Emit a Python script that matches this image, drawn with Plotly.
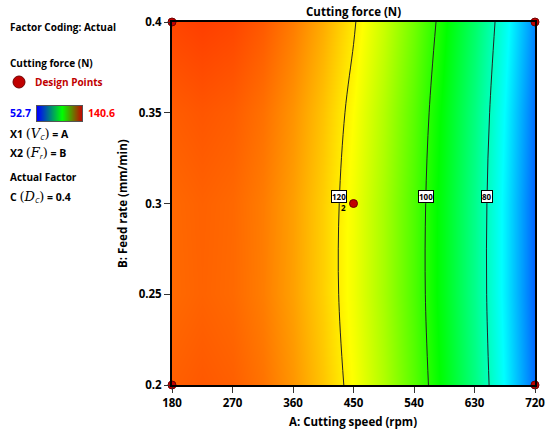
import numpy as np
import plotly.graph_objects as go

# ---------------- data ----------------
speed = [180, 225, 270, 315, 360, 405, 450, 495, 540, 585, 630, 675, 720]
feed = [0.2, 0.25, 0.3, 0.35, 0.4]
force_f020 = [132.4, 133.0, 132.4, 130.7, 127.7, 123.6, 118.3, 111.8, 104.2, 95.4, 85.4, 74.2, 61.9]
force_f025 = [131.5, 132.1, 131.5, 129.8, 126.8, 122.7, 117.4, 110.9, 103.3, 94.5, 84.5, 73.3, 61.0]
force_f030 = [131.6, 132.2, 131.6, 129.9, 126.9, 122.8, 117.5, 111.0, 103.4, 94.6, 84.6, 73.4, 61.1]
force_f035 = [132.6, 133.2, 132.6, 130.9, 127.9, 123.8, 118.5, 112.0, 104.4, 95.6, 85.6, 74.4, 62.1]
force_f040 = [134.6, 135.2, 134.6, 132.9, 129.9, 125.8, 120.5, 114.0, 106.4, 97.6, 87.6, 76.4, 64.1]
force_grid = [force_f020, force_f025, force_f030, force_f035, force_f040]

contour_levels = [80, 100, 120]
force_min, force_max = 52.7, 140.6

design_speed = [180, 180, 720, 720, 450]
design_feed = [0.2, 0.4, 0.2, 0.4, 0.3]
center_replicates = "2"

x_ticks = [180, 270, 360, 450, 540, 630, 720]
y_ticks = [0.2, 0.25, 0.3, 0.35, 0.4]
y_ticklabels = ["0.2", "0.25", "0.3", "0.35", "0.4"]

# ---------------- styling ----------------
W, H = 548, 434
FONT = "Open Sans"
def px(x): return x / W
def py(y): return 1 - y / H

cscale = [[0, "rgb(0,0,255)"], [0.25, "rgb(0,255,255)"], [0.5, "rgb(0,255,0)"],
          [0.75, "rgb(255,255,0)"], [1, "rgb(255,0,0)"]]

fig = go.Figure()
fig.add_trace(go.Heatmap(
    x=speed, y=feed, z=force_grid, colorscale=cscale, zmin=force_min, zmax=force_max,
    zsmooth="best", showscale=False, hoverinfo="skip"))
fig.add_trace(go.Contour(
    x=speed, y=feed, z=force_grid, autocontour=False,
    contours=dict(start=min(contour_levels), end=max(contour_levels), size=20, coloring="none"),
    line=dict(color="#222222", width=1), showscale=False, hoverinfo="skip"))
fig.add_trace(go.Scatter(
    x=design_speed, y=design_feed, mode="markers", cliponaxis=False,
    marker=dict(color="#c00000", size=8, line=dict(color="#700000", width=1)), hoverinfo="skip"))

# mini colour bar in the left panel
fig.add_trace(go.Heatmap(x=[0, 1], y=[0], z=[[force_min, force_max]], zsmooth="best",
                         colorscale=[[0, "rgb(0,0,255)"], [0.55, "rgb(0,255,0)"], [1, "rgb(200,0,0)"]],
                         showscale=False, xaxis="x2", yaxis="y2", hoverinfo="skip"))

annotations = []
row_mid = force_grid[feed.index(0.3)]
for lvl in contour_levels:
    xs = float(np.interp(lvl, row_mid[::-1], speed[::-1]))
    annotations.append(dict(x=xs, y=0.304, xref="x", yref="y", text=f"<b>{lvl}</b>", showarrow=False,
                            font=dict(family=FONT, size=8, color="black"), bgcolor="white",
                            bordercolor="black", borderwidth=1, borderpad=0))
annotations.append(dict(x=design_speed[-1], y=design_feed[-1], xref="x", yref="y", text=f"<b>{center_replicates}</b>",
                        showarrow=False, xshift=-10, yshift=-4, font=dict(family=FONT, size=8, color="black")))

def txt(x, y, t, color="black", size=10, anchor="left", **kw):
    annotations.append(dict(x=px(x), y=py(y), xref="paper", yref="paper", text=t, showarrow=False,
                            xanchor=anchor, yanchor="middle", font=dict(family=FONT, size=size, color=color), **kw))

def math(sym, sub):
    return (f"<span style='font-size:13px;font-family:DejaVu Serif'>(<i>{sym}</i></span>"
            f"<sub><i>{sub}</i></sub><span style='font-size:13px;font-family:DejaVu Serif'>)</span>")

txt(353, 12, "<b>Cutting force (N)</b>", size=11.5, anchor="center")
txt(353, 421, "<b>A: Cutting speed (rpm)</b>", size=11.5, anchor="center")
annotations.append(dict(x=px(123), y=py(204), xref="paper", yref="paper", text="<b>B: Feed rate (mm/min)</b>",
                        showarrow=False, textangle=-90, xanchor="center", yanchor="middle",
                        font=dict(family=FONT, size=11.5, color="black")))

txt(8, 27, "<b>Factor Coding: Actual</b>", size=10)
txt(8, 63, "<b>Cutting force (N)</b>", size=10)
txt(33, 82, "<b>Design Points</b>", color="#c00000", size=10)
txt(8, 113, "<b>52.7</b>", color="#0000ff", size=10.5)
txt(86, 113, "<b>140.6</b>", color="#ff0000", size=10.5)
txt(8, 134, "<b>X1</b> " + math("V", "C") + " <b>= A</b>", size=10.5)
txt(8, 153, "<b>X2</b> " + math("F", "r") + " <b>= B</b>", size=10.5)
txt(8, 177, "<b>Actual Factor</b>", size=10)
txt(8, 197, "<b>C</b> " + math("D", "C") + " <b>= 0.4</b>", size=10.5)

shapes = [dict(type="circle", xref="paper", yref="paper", x0=px(13), x1=px(25), y0=py(88), y1=py(76),
               fillcolor="#c00000", line=dict(color="#700000", width=1))]

axis_common = dict(showline=True, linecolor="black", linewidth=2, mirror=True, ticks="outside",
                   ticklen=6, tickcolor="#333", showgrid=False, zeroline=False, automargin=False,
                   tickfont=dict(family=FONT, size=11.5, color="black", weight="bold"))

fig.update_layout(
    width=W, height=H, margin=dict(l=0, r=0, t=0, b=0), showlegend=False,
    paper_bgcolor="white", plot_bgcolor="white",
    xaxis=dict(domain=[px(172), px(535)], range=[180, 720], tickvals=x_ticks, **axis_common),
    yaxis=dict(domain=[py(385), py(22)], range=[0.2, 0.4], tickvals=y_ticks,
               ticktext=y_ticklabels, **axis_common),
    xaxis2=dict(domain=[px(37), px(82)], range=[0, 1], showticklabels=False, ticks="",
                showline=True, linecolor="#555", linewidth=1, mirror=True, showgrid=False, zeroline=False,
                anchor="y2"),
    yaxis2=dict(domain=[py(121), py(106)], range=[-0.5, 0.5], showticklabels=False, ticks="",
                showline=True, linecolor="#555", linewidth=1, mirror=True, showgrid=False, zeroline=False,
                anchor="x2"),
    annotations=annotations, shapes=shapes,
)

fig.write_html("out.html", config={"displayModeBar": False},
               post_script="document.body.style.margin='0';document.body.style.overflow='hidden';")
